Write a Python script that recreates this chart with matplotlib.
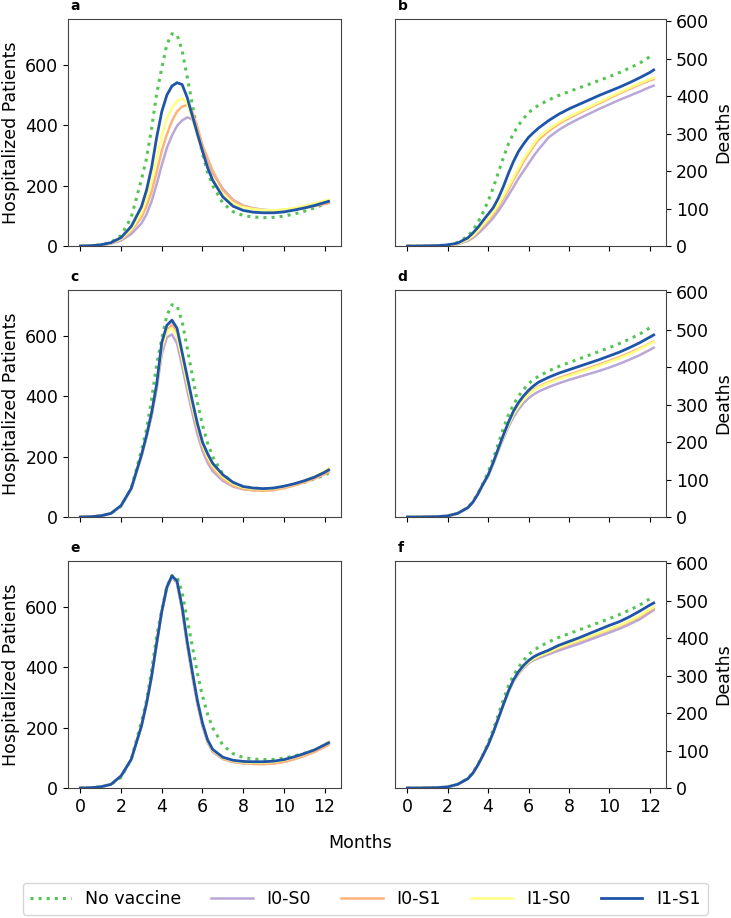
#!/usr/bin/env python3

# Imports
import matplotlib
matplotlib.use('Agg')
import matplotlib.pyplot as plt

# Time axis (months) shared by every curve
months = [0, 0.5, 1, 1.5, 2, 2.5, 3, 3.25, 3.5, 3.75, 4, 4.25, 4.5, 4.75, 5, 5.25,
          5.5, 5.75, 6, 6.25, 6.5, 7, 7.5, 8, 8.5, 9, 9.5, 10, 10.5, 11, 11.5, 12, 12.2]

# No vaccine baseline (same in every row)
no_vaccine_hosp = [0, 1, 4, 12, 35, 95, 220, 290, 390, 505, 590, 668, 703, 700, 648, 560,
                   470, 380, 305, 245, 200, 142, 114, 101, 96, 94, 95, 99, 106, 115, 126, 139, 145]
no_vaccine_deaths = [0, 0, 0.5, 1, 3, 10, 26, 42, 64, 90, 120, 155, 195, 235, 272, 300,
                     322, 340, 356, 367, 376, 390, 402, 412, 422, 432, 442, 452, 463, 475, 488, 505, 512]

# Panel a - hospitalized patients
a_i0s0 = [0, 1, 3, 8, 18, 40, 75, 105, 148, 205, 268, 325, 366, 398, 416, 426,
          420, 382, 332, 282, 242, 190, 153, 134, 125, 120, 118, 119, 122, 127, 133, 140, 143]
a_i0s1 = [0, 1, 3, 9, 22, 50, 95, 132, 180, 245, 315, 370, 414, 446, 462, 467,
          445, 395, 333, 292, 250, 185, 152, 132, 124, 119, 117, 117, 120, 126, 132, 139, 142]
a_i1s0 = [0, 1, 4, 10, 24, 55, 110, 155, 215, 290, 365, 422, 457, 480, 489, 472,
          422, 365, 312, 262, 222, 170, 140, 128, 122, 119, 118, 121, 126, 133, 141, 150, 153]
a_i1s1 = [0, 1, 4, 11, 28, 65, 130, 185, 260, 360, 445, 500, 530, 541, 535, 492,
          432, 372, 315, 260, 218, 163, 132, 118, 112, 110, 110, 113, 119, 126, 134, 144, 148]

# Panel b - deaths
b_i0s0 = [0, 0, 0.5, 1, 2, 5, 14, 22, 33, 46, 60, 75, 93, 113, 135, 157,
          180, 200, 220, 240, 258, 290, 310, 326, 340, 353, 366, 378, 390, 401, 412, 424, 428]
b_i0s1 = [0, 0, 0.5, 1, 2, 5, 17, 26, 39, 53, 68, 85, 104, 127, 151, 176,
          200, 225, 246, 266, 284, 307, 326, 341, 355, 368, 381, 394, 407, 419, 431, 442, 445]
b_i1s0 = [0, 0, 0.5, 1, 2, 6, 18, 28, 42, 57, 72, 90, 110, 133, 158, 183,
          208, 232, 252, 272, 290, 312, 330, 345, 358, 371, 384, 397, 410, 422, 434, 445, 449]
b_i1s1 = [0, 0, 0.5, 1, 3, 8, 22, 35, 50, 68, 85, 102, 127, 158, 193, 225,
          252, 272, 290, 303, 315, 335, 352, 366, 378, 390, 402, 413, 424, 436, 449, 463, 470]

# Panel c - hospitalized patients
c_i0s0 = [0, 1, 4, 12, 37, 92, 200, 265, 335, 425, 540, 595, 605, 575, 500, 420,
          345, 275, 220, 180, 152, 120, 101, 92, 89, 89, 92, 98, 107, 117, 128, 143, 150]
c_i0s1 = [0, 1, 4, 12, 37, 93, 202, 267, 340, 432, 555, 615, 638, 600, 520, 440,
          362, 292, 232, 192, 162, 126, 104, 93, 88, 87, 89, 95, 104, 115, 127, 142, 149]
c_i1s0 = [0, 1, 4, 12, 37, 93, 203, 268, 342, 435, 560, 615, 625, 600, 525, 445,
          368, 300, 240, 200, 170, 133, 110, 98, 93, 92, 94, 100, 109, 121, 134, 152, 161]
c_i1s1 = [0, 1, 4, 12, 38, 95, 205, 270, 345, 440, 578, 635, 652, 625, 545, 465,
          385, 310, 248, 210, 178, 140, 115, 101, 96, 94, 96, 102, 110, 120, 132, 148, 156]

# Panel d - deaths
d_i0s0 = [0, 0, 0.5, 1, 3, 10, 25, 40, 62, 86, 110, 141, 176, 209, 240, 266,
          287, 304, 317, 327, 335, 347, 357, 366, 374, 382, 390, 399, 409, 420, 432, 446, 452]
d_i0s1 = [0, 0, 0.5, 1, 3, 10, 25, 40, 62, 87, 111, 143, 180, 214, 247, 276,
          298, 316, 331, 340, 348, 360, 371, 380, 389, 398, 407, 417, 427, 438, 450, 463, 468]
d_i1s0 = [0, 0, 0.5, 1, 3, 10, 25, 40, 62, 87, 111, 143, 179, 213, 245, 274,
          295, 313, 327, 338, 346, 358, 368, 377, 386, 395, 404, 414, 424, 435, 448, 462, 467]
d_i1s1 = [0, 0, 0.5, 1, 3, 10, 25, 40, 62, 88, 112, 145, 182, 218, 252, 282,
          305, 323, 338, 350, 360, 373, 384, 393, 402, 411, 420, 430, 440, 452, 465, 480, 486]

# Panel e - hospitalized patients
e_i0s0 = [0, 1, 4, 12, 40, 95, 205, 280, 368, 478, 583, 662, 700, 678, 590, 472,
          370, 278, 205, 152, 120, 96, 86, 82, 80, 80, 82, 87, 96, 107, 120, 137, 145]
e_i0s1 = [0, 1, 4, 12, 40, 95, 205, 280, 369, 479, 584, 663, 701, 680, 593, 476,
          375, 282, 209, 155, 122, 97, 87, 82, 80, 79, 81, 86, 95, 106, 119, 136, 143]
e_i1s0 = [0, 1, 4, 12, 40, 95, 205, 280, 369, 479, 584, 664, 702, 682, 596, 480,
          380, 286, 212, 158, 125, 100, 90, 85, 84, 84, 86, 92, 101, 113, 126, 145, 153]
e_i1s1 = [0, 1, 4, 12, 40, 95, 205, 280, 370, 480, 585, 665, 703, 685, 600, 485,
          385, 290, 215, 160, 128, 102, 92, 88, 87, 87, 89, 94, 103, 114, 126, 143, 150]

# Panel f - deaths
f_i0s0 = [0, 0, 0.5, 1, 3, 10, 25, 40, 62, 88, 115, 147, 184, 220, 255, 284,
          304, 320, 333, 341, 347, 357, 367, 376, 385, 395, 405, 415, 425, 437, 450, 468, 475]
f_i0s1 = [0, 0, 0.5, 1, 3, 10, 25, 40, 62, 88, 115, 148, 185, 221, 256, 285,
          306, 323, 335, 344, 351, 362, 373, 383, 392, 402, 412, 422, 432, 444, 457, 474, 480]
f_i1s0 = [0, 0, 0.5, 1, 3, 10, 25, 40, 62, 88, 115, 148, 185, 221, 256, 286,
          307, 324, 336, 345, 352, 363, 375, 385, 394, 404, 414, 424, 434, 446, 460, 477, 483]
f_i1s1 = [0, 0, 0.5, 1, 3, 10, 25, 40, 62, 88, 115, 148, 185, 222, 258, 288,
          310, 327, 340, 350, 357, 368, 381, 391, 401, 412, 423, 434, 444, 457, 472, 488, 494]

scenario_labels = ['I0-S0', 'I0-S1', 'I1-S0', 'I1-S1']
scenario_colors = ['#b9a7d8', '#fdb47c', '#ffff84', '#1f55a8']
scenario_widths = [1.8, 1.8, 1.8, 2.0]
green = '#55c455'
fs = 12.5

# Creating the figure and the six axes
fig = plt.figure(figsize=(7.31, 9.18), dpi=100)
row_bottoms = [0.732, 0.4368, 0.1416]
row_height = 0.2473

panels = [
    ('a', 'b', [a_i0s0, a_i0s1, a_i1s0, a_i1s1], [b_i0s0, b_i0s1, b_i1s0, b_i1s1]),
    ('c', 'd', [c_i0s0, c_i0s1, c_i1s0, c_i1s1], [d_i0s0, d_i0s1, d_i1s0, d_i1s1]),
    ('e', 'f', [e_i0s0, e_i0s1, e_i1s0, e_i1s1], [f_i0s0, f_i0s1, f_i1s0, f_i1s1]),
]

for row, (lt_left, lt_right, hosp, deaths) in enumerate(panels):
    bottom = row_bottoms[row]
    axl = fig.add_axes([0.093, bottom, 0.3735, row_height])
    axr = fig.add_axes([0.5404, bottom, 0.3707, row_height])

    # Hospitalized patients (left)
    axl.plot(months, no_vaccine_hosp, ':', color=green, lw=2.2, label='No vaccine')
    for ys, lab, col, lw in zip(hosp, scenario_labels, scenario_colors, scenario_widths):
        axl.plot(months, ys, '-', color=col, lw=lw, label=lab)
    axl.set_ylim(0, 752)
    axl.set_yticks([0, 200, 400, 600])
    axl.set_ylabel('Hospitalized Patients', fontsize=fs)

    # Deaths (right)
    axr.plot(months, no_vaccine_deaths, ':', color=green, lw=2.2, label='No vaccine')
    for ys, lab, col, lw in zip(deaths, scenario_labels, scenario_colors, scenario_widths):
        axr.plot(months, ys, '-', color=col, lw=lw, label=lab)
    axr.set_ylim(0, 606)
    axr.set_yticks([0, 100, 200, 300, 400, 500, 600])
    axr.yaxis.tick_right()
    axr.yaxis.set_label_position('right')
    axr.set_ylabel('Deaths', fontsize=fs)

    for ax, letter in ((axl, lt_left), (axr, lt_right)):
        ax.set_xticks([0, 2, 4, 6, 8, 10, 12])
        ax.tick_params(labelsize=fs)
        for sp in ax.spines.values():
            sp.set_color('#444444')
        if row < 2:
            ax.set_xticklabels([])
        ax.text(0.01, 1.025, letter, transform=ax.transAxes, fontsize=10,
                fontweight='bold', va='bottom', ha='left')

# Shared x label and legend
fig.text(0.4925, 0.0817, 'Months', ha='center', va='center', fontsize=fs)
handles, labels = axl.get_legend_handles_labels()
fig.legend(handles, labels, loc='lower left', ncol=5, mode='expand',
           bbox_to_anchor=(0.031, 0.0035, 0.937, 0.036), borderaxespad=0,
           fontsize=fs, handlelength=2.4)

fig.savefig('out.png', dpi=100)
